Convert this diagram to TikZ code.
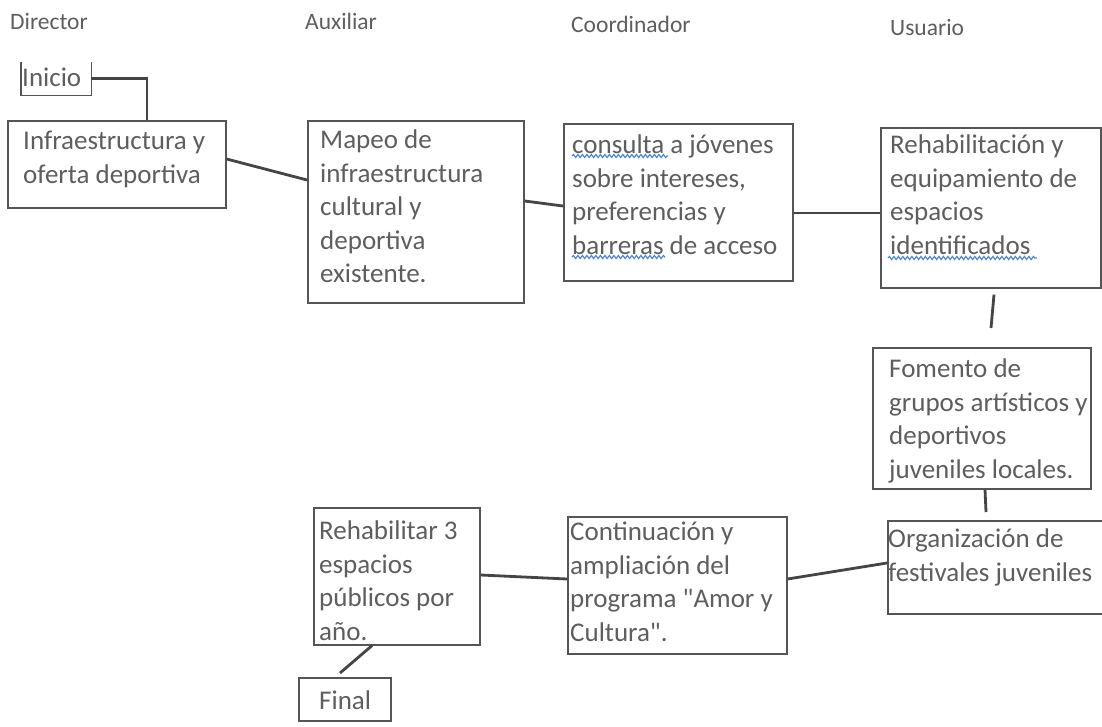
\documentclass[tikz,border=0pt]{standalone}
\usepackage{fontspec}
\setmainfont{Carlito}[Ligatures=TeXOff]
\usetikzlibrary{calc,decorations.pathmorphing}
\definecolor{txtc}{HTML}{5E5E5E}
\definecolor{edgec}{HTML}{555555}
\definecolor{wirec}{HTML}{454545}
\definecolor{squigc}{HTML}{4A86D8}
\begin{document}
\begin{tikzpicture}[x=1pt,y=-1pt,
  box/.style={draw=edgec, line width=1.6pt, anchor=north west, inner sep=0pt, rectangle},
  lbl/.style={anchor=north west, inner sep=0pt, align=left, text=txtc, font=\fontsize{27}{33.5}\selectfont},
  head/.style={anchor=base west, inner sep=0pt, text=txtc, font=\fontsize{23.5}{28}\selectfont},
  wire/.style={draw=wirec, line width=2.8pt},
  squiggle/.style={draw=squigc, line width=1.2pt, decorate, decoration={snake, amplitude=1.5pt, segment length=4.5pt}}]
\useasboundingbox (0,0) rectangle (1102,727);
\fill[white] (0,0) rectangle (1102,727);

% headers
\node[head] (hdir) at (10,30) {Director};
\node[head] (haux) at (305,30) {Auxiliar};
\node[head] (hcoo) at (571,33) {Coordinador};
\node[head] (husu) at (890,36) {Usuario};

% boxes
\node[anchor=north west, inner sep=0pt, minimum width=70pt, minimum height=33pt] (inicio) at (21,62) {};
\draw[draw=edgec, line width=1.6pt] (inicio.north west) -- (inicio.south west) -- (inicio.south east) -- (inicio.north east);
\node[box, minimum width=218pt, minimum height=87pt] (infra) at (7,120) {};
\node[box, minimum width=216pt, minimum height=182pt] (mapeo) at (307,120) {};
\node[box, minimum width=229pt, minimum height=157pt] (consulta) at (563,123) {};
\node[box, minimum width=220pt, minimum height=160pt] (rehab) at (880,127) {};
\node[box, minimum width=218pt, minimum height=141pt] (fomento) at (872,347) {};
\node[box, minimum width=222pt, minimum height=93pt] (org) at (887,520) {};
\node[box, minimum width=219pt, minimum height=137pt] (cont) at (567,516) {};
\node[box, minimum width=166pt, minimum height=137pt] (rehab3) at (313,507) {};
\node[box, minimum width=92pt, minimum height=43pt] (final) at (298,677) {};

% texts
\node[lbl] (inicio-t) at (22,68) {Inicio};
\node[lbl] (infra-t) at (23,131) {Infraestructura y\\oferta deportiva};
\node[lbl] (mapeo-t) at (320,130) {Mapeo de\\infraestructura\\cultural y\\deportiva\\existente.};
\node[lbl] (consulta-t) at (572,135) {consulta a jóvenes\\sobre intereses,\\preferencias y\\barreras de acceso};
\node[lbl] (rehab-t) at (890,135) {Rehabilitación y\\equipamiento de\\espacios\\identificados};
\node[lbl] (fomento-t) at (889,359) {Fomento de\\grupos artísticos y\\deportivos\\juveniles locales.};
\node[lbl] (org-t) at (888,529) {Organización de\\festivales juveniles};
\node[lbl] (cont-t) at (570,522) {Continuación y\\ampliación del\\programa "Amor y\\Cultura".};
\node[lbl] (rehab3-t) at (319,521) {Rehabilitar 3\\espacios\\públicos por\\año.};
\node[lbl] (final-t) at (319,691) {Final};

% spell-check squiggles
\draw[squiggle] (572,156) -- (668,156);
\draw[squiggle] (572,257) -- (665,257);
\draw[squiggle] (888,258) -- (1037,258);

% connectors
\draw[wire] (inicio.east) -| ($(infra.north west)+(140,0)$);
\draw[wire] ($(infra.north east)+(0,39)$) -- ($(mapeo.north west)+(0,60)$);
\draw[wire] ($(mapeo.north east)+(0,81)$) -- ($(consulta.north west)+(0,83)$);
\draw[wire] ($(consulta.north east)+(0,90)$) -- ($(rehab.north west)+(0,86)$);
\draw[wire] ($(rehab.south west)+(114,6)$) -- ($(fomento.north west)+(119,-19)$);
\draw[wire] ($(fomento.south west)+(113,0)$) -- ($(org.north west)+(99,-8)$);
\draw[wire] ($(org.north west)+(0,43)$) -- ($(cont.north east)+(0,63)$);
\draw[wire] ($(cont.north west)+(0,63)$) -- ($(rehab3.north east)+(0,68)$);
\draw[wire] ($(rehab3.south west)+(59,0)$) -- ($(final.north west)+(42,-4)$);
\end{tikzpicture}
\end{document}
